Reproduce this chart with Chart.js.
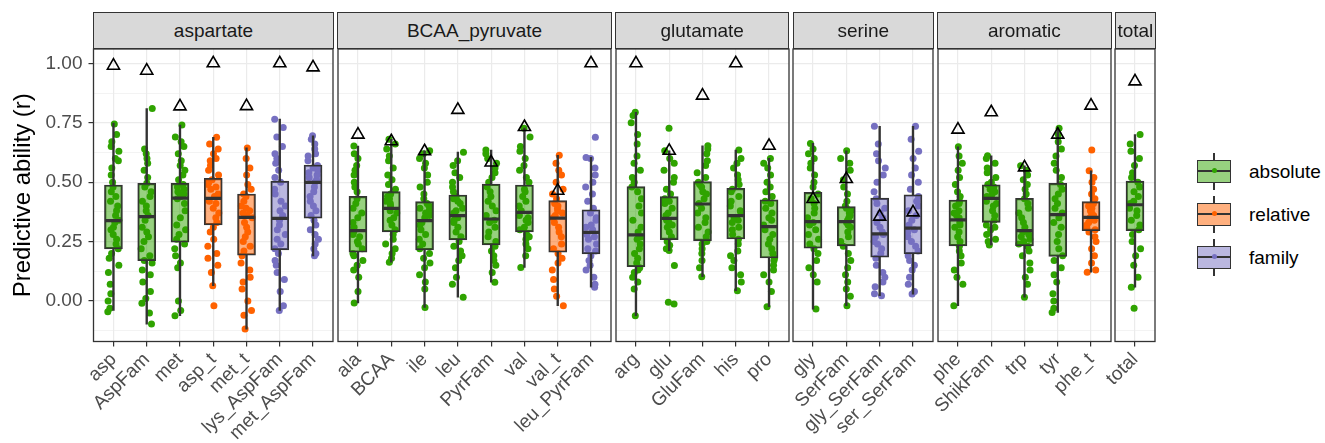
<!DOCTYPE html>
<html>
<head>
<meta charset="utf-8">
<script src="https://cdn.jsdelivr.net/npm/chart.js@4.4.1/dist/chart.umd.min.js"></script>
<style>
  html, body { margin: 0; padding: 0; background: #fff; }
  body { width: 1325px; height: 443px; overflow: hidden; position: relative;
         font-family: "Liberation Sans", Arial, Helvetica, sans-serif; }
  canvas { position: absolute; }
  .strip { position: absolute; top: 12px; height: 37px; background: #d9d9d9; border: 1.3px solid #333;
           box-sizing: border-box; display: flex; align-items: center; justify-content: center;
           font-size: 19px; color: #1a1a1a; white-space: nowrap; overflow: hidden; z-index: 2; }
  .lkey { position: absolute; left: 1197px; width: 34px; height: 23px; box-sizing: border-box;
          border: 1.5px solid #333; }
  .lmed { position: absolute; left: 0; right: 0; top: 9px; height: 2.2px; background: #333; }
  .ldot { position: absolute; left: 13.5px; top: 7.5px; width: 5px; height: 5px; border-radius: 50%; }
  .lwh { position: absolute; left: 1213.3px; width: 1.5px; height: 7px; background: #333; }
  .llab { position: absolute; left: 1249px; font-size: 19px; color: #000; line-height: 23px; }
</style>
</head>
<body>
<script>
// ---------------- data ----------------
const groups = ['aspartate', 'BCAA_pyruvate', 'glutamate', 'serine', 'aromatic', 'total'];
const types = ['absolute', 'relative', 'family'];

const categories = ['asp','AspFam','met','asp_t','met_t','lys_AspFam','met_AspFam',
  'ala','BCAA','ile','leu','PyrFam','val','val_t','leu_PyrFam',
  'arg','glu','GluFam','his','pro',
  'gly','SerFam','gly_SerFam','ser_SerFam',
  'phe','ShikFam','trp','tyr','phe_t',
  'total'];

const categoryGroup = ['aspartate','aspartate','aspartate','aspartate','aspartate','aspartate','aspartate',
  'BCAA_pyruvate','BCAA_pyruvate','BCAA_pyruvate','BCAA_pyruvate','BCAA_pyruvate','BCAA_pyruvate','BCAA_pyruvate','BCAA_pyruvate',
  'glutamate','glutamate','glutamate','glutamate','glutamate',
  'serine','serine','serine','serine',
  'aromatic','aromatic','aromatic','aromatic','aromatic',
  'total'];

const categoryType = ['absolute','absolute','absolute','relative','relative','family','family',
  'absolute','absolute','absolute','absolute','absolute','absolute','relative','family',
  'absolute','absolute','absolute','absolute','absolute',
  'absolute','absolute','family','family',
  'absolute','absolute','absolute','absolute','relative',
  'absolute'];

const whiskerLow = [-0.040,-0.097,-0.062,0.064,-0.118,-0.040,0.190,
  -0.008,0.163,-0.027,0.016,0.079,0.141,-0.020,0.058,
  -0.062,0.212,0.102,0.043,-0.024,
  -0.034,-0.020,0.022,0.029,
  -0.020,0.236,0.016,-0.048,0.121,
  0.058];
const boxQ1 = [0.219,0.170,0.247,0.320,0.193,0.215,0.348,
  0.205,0.291,0.215,0.257,0.236,0.291,0.205,0.198,
  0.144,0.258,0.254,0.261,0.181,
  0.222,0.232,0.184,0.198,
  0.232,0.331,0.232,0.188,0.296,
  0.296];
const boxMedian = [0.338,0.355,0.433,0.432,0.352,0.348,0.499,
  0.296,0.390,0.338,0.359,0.345,0.373,0.349,0.289,
  0.278,0.348,0.408,0.359,0.313,
  0.334,0.334,0.282,0.307,
  0.341,0.432,0.296,0.363,0.352,
  0.405];
const boxQ3 = [0.488,0.495,0.495,0.516,0.450,0.504,0.572,
  0.440,0.460,0.418,0.446,0.492,0.488,0.422,0.384,
  0.481,0.439,0.502,0.474,0.426,
  0.457,0.397,0.433,0.447,
  0.425,0.489,0.432,0.495,0.418,
  0.504];
const whiskerHigh = [0.749,0.810,0.740,0.689,0.644,0.765,0.695,
  0.652,0.680,0.632,0.626,0.635,0.727,0.613,0.604,
  0.794,0.632,0.653,0.635,0.600,
  0.663,0.632,0.735,0.735,
  0.649,0.611,0.569,0.727,0.548,
  0.700];
const triangleValue = [0.990,0.969,0.819,1.000,0.820,1.000,0.983,
  0.700,0.672,0.630,0.804,0.583,0.732,0.464,1.000,
  1.000,0.632,0.864,1.000,0.653,
  0.429,0.513,0.355,0.373,
  0.721,0.794,0.562,0.700,0.822,
  0.924];

const pointValues = [
  [-0.045,-0.03,0.0,0.03,0.07,0.12,0.15,0.18,0.2,0.22,0.24,0.26,0.28,0.3,0.31,0.33,0.34,0.36,0.38,0.4,0.42,0.44,0.46,0.48,0.5,0.53,0.56,0.59,0.6,0.63,0.65,0.67,0.7,0.745],
  [-0.097,-0.05,-0.01,0.01,0.04,0.08,0.11,0.13,0.16,0.17,0.19,0.22,0.25,0.27,0.29,0.31,0.34,0.36,0.38,0.4,0.42,0.44,0.46,0.48,0.495,0.52,0.55,0.58,0.6,0.62,0.64,0.81],
  [-0.062,-0.04,0.0,0.14,0.16,0.19,0.22,0.24,0.26,0.28,0.3,0.32,0.35,0.38,0.41,0.43,0.44,0.45,0.46,0.47,0.48,0.49,0.51,0.53,0.55,0.57,0.59,0.62,0.65,0.67,0.69,0.74],
  [-0.02,0.064,0.12,0.15,0.18,0.2,0.23,0.26,0.29,0.31,0.33,0.35,0.37,0.39,0.41,0.42,0.44,0.45,0.47,0.48,0.49,0.5,0.51,0.53,0.55,0.57,0.59,0.6,0.62,0.64,0.66,0.689],
  [-0.118,-0.06,-0.04,0.0,0.05,0.08,0.1,0.13,0.16,0.19,0.21,0.23,0.25,0.27,0.29,0.31,0.33,0.35,0.36,0.37,0.38,0.39,0.4,0.42,0.44,0.45,0.47,0.49,0.53,0.56,0.6,0.644],
  [-0.04,-0.02,0.04,0.09,0.12,0.15,0.17,0.2,0.22,0.24,0.26,0.28,0.3,0.32,0.34,0.36,0.38,0.4,0.42,0.45,0.47,0.5,0.52,0.55,0.58,0.6,0.62,0.65,0.69,0.73,0.765],
  [0.19,0.2,0.22,0.24,0.26,0.28,0.3,0.32,0.34,0.36,0.38,0.4,0.42,0.44,0.46,0.48,0.5,0.51,0.52,0.53,0.54,0.55,0.56,0.57,0.59,0.61,0.62,0.64,0.66,0.68,0.695],
  [-0.008,0.04,0.1,0.13,0.15,0.17,0.19,0.2,0.22,0.24,0.25,0.27,0.28,0.29,0.31,0.33,0.35,0.37,0.39,0.41,0.43,0.46,0.48,0.5,0.53,0.55,0.57,0.6,0.62,0.652],
  [0.163,0.18,0.2,0.22,0.24,0.26,0.28,0.3,0.32,0.34,0.35,0.37,0.38,0.4,0.41,0.42,0.43,0.44,0.45,0.47,0.49,0.51,0.53,0.56,0.59,0.61,0.64,0.66,0.68],
  [-0.027,0.05,0.08,0.11,0.14,0.16,0.18,0.2,0.22,0.24,0.26,0.28,0.3,0.32,0.33,0.35,0.36,0.37,0.38,0.39,0.4,0.41,0.43,0.45,0.48,0.5,0.53,0.56,0.58,0.6,0.62,0.632],
  [0.016,0.07,0.1,0.14,0.17,0.19,0.21,0.23,0.25,0.27,0.29,0.31,0.33,0.34,0.35,0.37,0.38,0.39,0.41,0.42,0.43,0.44,0.46,0.48,0.5,0.52,0.54,0.57,0.59,0.626],
  [0.079,0.12,0.15,0.17,0.19,0.21,0.23,0.25,0.27,0.29,0.31,0.33,0.34,0.36,0.38,0.4,0.42,0.44,0.46,0.48,0.5,0.52,0.54,0.56,0.58,0.6,0.62,0.635],
  [0.141,0.19,0.22,0.24,0.26,0.27,0.28,0.3,0.31,0.33,0.34,0.35,0.36,0.38,0.4,0.42,0.44,0.46,0.47,0.5,0.52,0.55,0.57,0.6,0.63,0.65,0.69,0.727],
  [-0.02,0.02,0.05,0.09,0.13,0.16,0.18,0.2,0.22,0.24,0.27,0.29,0.31,0.33,0.35,0.36,0.37,0.38,0.39,0.4,0.41,0.43,0.45,0.47,0.5,0.53,0.55,0.58,0.613],
  [0.058,0.07,0.1,0.13,0.15,0.17,0.19,0.21,0.22,0.24,0.26,0.27,0.28,0.3,0.31,0.32,0.34,0.35,0.37,0.39,0.42,0.45,0.48,0.5,0.53,0.56,0.6,0.604,0.689],
  [-0.062,0.05,0.08,0.1,0.12,0.13,0.14,0.16,0.18,0.2,0.22,0.24,0.26,0.27,0.29,0.31,0.34,0.37,0.4,0.43,0.46,0.48,0.5,0.52,0.55,0.58,0.61,0.66,0.7,0.75,0.78,0.794],
  [-0.013,-0.005,0.149,0.212,0.22,0.235,0.25,0.27,0.29,0.31,0.32,0.33,0.34,0.36,0.37,0.39,0.41,0.42,0.43,0.45,0.47,0.5,0.52,0.55,0.58,0.6,0.632,0.727],
  [0.102,0.14,0.17,0.2,0.22,0.24,0.25,0.27,0.29,0.31,0.33,0.35,0.37,0.39,0.41,0.43,0.45,0.46,0.48,0.49,0.5,0.52,0.54,0.57,0.59,0.62,0.64,0.653],
  [0.043,0.08,0.11,0.14,0.17,0.19,0.21,0.24,0.26,0.28,0.3,0.31,0.33,0.34,0.35,0.37,0.38,0.4,0.42,0.44,0.46,0.47,0.49,0.51,0.53,0.56,0.58,0.6,0.635],
  [-0.024,0.04,0.08,0.11,0.13,0.15,0.17,0.18,0.2,0.22,0.24,0.26,0.28,0.3,0.32,0.34,0.35,0.37,0.39,0.41,0.42,0.44,0.46,0.48,0.5,0.53,0.56,0.58,0.6],
  [-0.034,0.08,0.11,0.14,0.17,0.2,0.22,0.24,0.26,0.28,0.3,0.32,0.33,0.35,0.37,0.39,0.41,0.43,0.45,0.48,0.5,0.53,0.56,0.58,0.6,0.62,0.64,0.663],
  [-0.02,0.02,0.05,0.08,0.11,0.14,0.17,0.2,0.23,0.25,0.27,0.29,0.31,0.32,0.33,0.34,0.35,0.36,0.37,0.38,0.39,0.4,0.42,0.45,0.48,0.51,0.55,0.58,0.6,0.632],
  [0.022,0.03,0.06,0.08,0.1,0.12,0.15,0.18,0.2,0.22,0.24,0.25,0.27,0.28,0.29,0.31,0.33,0.35,0.37,0.39,0.41,0.43,0.46,0.5,0.53,0.56,0.59,0.62,0.66,0.735],
  [0.029,0.04,0.07,0.1,0.13,0.15,0.17,0.19,0.21,0.23,0.25,0.27,0.29,0.3,0.32,0.34,0.36,0.38,0.4,0.42,0.44,0.47,0.5,0.53,0.56,0.6,0.63,0.68,0.735],
  [-0.02,0.07,0.1,0.13,0.16,0.19,0.21,0.23,0.25,0.27,0.29,0.31,0.32,0.33,0.35,0.36,0.37,0.38,0.4,0.41,0.42,0.44,0.46,0.49,0.52,0.55,0.58,0.61,0.649],
  [0.236,0.25,0.26,0.28,0.3,0.31,0.32,0.34,0.36,0.38,0.4,0.41,0.42,0.44,0.45,0.46,0.47,0.48,0.49,0.5,0.52,0.54,0.56,0.58,0.6,0.611],
  [0.016,0.07,0.1,0.13,0.16,0.19,0.21,0.23,0.24,0.25,0.26,0.27,0.28,0.29,0.31,0.33,0.35,0.37,0.39,0.41,0.43,0.45,0.47,0.49,0.51,0.53,0.55,0.569],
  [-0.048,-0.03,0.0,0.03,0.08,0.11,0.14,0.17,0.19,0.22,0.25,0.28,0.31,0.33,0.35,0.37,0.39,0.41,0.43,0.45,0.47,0.49,0.52,0.55,0.58,0.61,0.64,0.67,0.7,0.727],
  [0.121,0.13,0.16,0.19,0.22,0.25,0.27,0.29,0.3,0.31,0.32,0.33,0.34,0.35,0.36,0.37,0.38,0.39,0.4,0.41,0.43,0.45,0.47,0.5,0.52,0.548,0.635],
  [-0.031,0.058,0.1,0.15,0.19,0.22,0.25,0.28,0.3,0.32,0.34,0.36,0.38,0.39,0.41,0.42,0.44,0.46,0.48,0.5,0.52,0.54,0.57,0.6,0.63,0.66,0.7]
];

const yMajorTicks = [0, 0.25, 0.5, 0.75, 1.0];
const yMinorTicks = [-0.125, 0.125, 0.375, 0.625, 0.875];
const yTitle = 'Predictive ability (r)';

// ---------------- styling / layout ----------------
const typeColor = { absolute: '#2fa300', relative: '#ff6200', family: '#7670c1' };
function rgba(hex, a) {
  const n = parseInt(hex.slice(1), 16);
  return `rgba(${(n >> 16) & 255},${(n >> 8) & 255},${n & 255},${a})`;
}
const FONT = '"Liberation Sans", Arial, Helvetica, sans-serif';
const UNIT = 33.33, FIRST_LEFT = 93.5, GAP = 4.4;
const CANVAS_TOP = 25, PLOT_TOP = 49, PLOT_BOTTOM = 341.5, PAGE_H = 443;
const Y_MIN = -0.1704, Y_MAX = 1.0602;
const PAD_L = 45, PAD_R = 14;
const isMajor = v => yMajorTicks.some(t => Math.abs(t - v) < 1e-9);
const yAll = yMajorTicks.concat(yMinorTicks).sort((a, b) => a - b);

function jitter(i, j) {
  const s = Math.sin(i * 12.9898 + j * 78.233) * 43758.5453;
  return (s - Math.floor(s) - 0.5) * 0.34;
}

const panelBorder = {
  id: 'panelBorder',
  afterDraw(chart) {
    const { ctx, chartArea: a } = chart;
    ctx.save();
    ctx.strokeStyle = '#333';
    ctx.lineWidth = 1.3;
    ctx.strokeRect(a.left, a.top, a.right - a.left, a.bottom - a.top);
    ctx.restore();
  }
};

let panelLeft = FIRST_LEFT;
groups.forEach((g, gi) => {
  const idx = categories.map((c, i) => i).filter(i => categoryGroup[i] === g);
  const n = idx.length;
  const labels = idx.map(i => categories[i]);
  const panelWidth = (n - 1 + 1.2) * UNIT;
  const first = gi === 0;

  const strip = document.createElement('div');
  strip.className = 'strip';
  strip.style.left = (panelLeft - 0.6) + 'px';
  strip.style.width = (panelWidth + 1.2) + 'px';
  strip.textContent = g;
  document.body.appendChild(strip);

  const cv = document.createElement('canvas');
  const cLeft = first ? 0 : panelLeft - PAD_L;
  const cWidth = (first ? panelLeft : PAD_L) + panelWidth + PAD_R;
  const cHeight = PAGE_H - CANVAS_TOP;
  cv.width = Math.round(cWidth); cv.height = cHeight;
  cv.style.left = cLeft + 'px'; cv.style.top = CANVAS_TOP + 'px';
  cv.style.width = Math.round(cWidth) + 'px'; cv.style.height = cHeight + 'px';
  document.body.appendChild(cv);

  const pts = [], boxes = [], wLo = [], wHi = [], meds = [], tris = [];
  idx.forEach((ci, k) => {
    const col = typeColor[categoryType[ci]];
    pointValues[ci].forEach((v, j) => pts.push({ x: k + jitter(ci, j), y: v, c: col }));
    boxes.push({ x: k, y: [boxQ1[ci], boxQ3[ci]], c: col });
    wLo.push({ x: k, y: [whiskerLow[ci], boxQ1[ci]] });
    wHi.push({ x: k, y: [boxQ3[ci], whiskerHigh[ci]] });
    meds.push({ x: k, y: boxMedian[ci] });
    tris.push({ x: k, y: triangleValue[ci] });
  });

  const padTop = PLOT_TOP - CANVAS_TOP;
  new Chart(cv, {
    type: 'scatter',
    data: {
      datasets: [
        { type: 'scatter', data: tris, order: 0, pointStyle: 'triangle', pointRadius: 7,
          pointBorderWidth: 1.6, pointBorderColor: '#000', pointBackgroundColor: 'rgba(0,0,0,0)' },
        { type: 'scatter', data: meds, order: 1, pointStyle: 'line', pointRadius: 8.3,
          pointBorderWidth: 3.2, pointBorderColor: '#333', pointBackgroundColor: '#333' },
        { type: 'bar', data: boxes, order: 2, grouped: false, barThickness: 18,
          backgroundColor: c => rgba(c.raw ? c.raw.c : '#2fa300', 0.5),
          borderColor: '#333', borderWidth: 1.5, borderSkipped: false },
        { type: 'bar', data: wLo, order: 3, grouped: false, barThickness: 1.7,
          backgroundColor: '#333', borderWidth: 0 },
        { type: 'bar', data: wHi, order: 3, grouped: false, barThickness: 1.7,
          backgroundColor: '#333', borderWidth: 0 },
        { type: 'scatter', data: pts, order: 5, pointRadius: 3.5, pointBorderWidth: 0,
          pointBackgroundColor: c => (c.raw ? c.raw.c : '#2fa300') }
      ]
    },
    options: {
      responsive: false,
      animation: false,
      events: [],
      devicePixelRatio: 1,
      layout: { padding: { left: first ? 0 : PAD_L, right: PAD_R, top: padTop, bottom: 0 } },
      plugins: { legend: { display: false }, tooltip: { enabled: false }, title: { display: false } },
      scales: {
        x: {
          type: 'linear', min: -0.6, max: n - 0.4, offset: false,
          afterBuildTicks: s => { s.ticks = labels.map((_, k) => ({ value: k })); },
          afterFit: s => { s.height = PAGE_H - PLOT_BOTTOM; },
          ticks: { autoSkip: false, minRotation: 45, maxRotation: 45, padding: 2,
                   font: { size: 19, family: FONT }, color: '#4d4d4d',
                   callback: v => labels[Math.round(v)] },
          grid: { color: '#ebebeb', lineWidth: 1.2, offset: false, drawTicks: true,
                  tickLength: 5, tickColor: '#333', tickWidth: 1.2 },
          border: { display: false }
        },
        y: {
          type: 'linear', min: Y_MIN, max: Y_MAX,
          afterBuildTicks: s => { s.ticks = yAll.map(v => ({ value: v })); },
          afterFit: s => { s.width = first ? panelLeft : 0; },
          ticks: { display: first, autoSkip: false, padding: 6,
                   font: { size: 19, family: FONT }, color: '#4d4d4d',
                   callback: v => isMajor(v) ? v.toFixed(2) : '' },
          grid: { color: '#ebebeb', lineWidth: c => isMajor(c.tick.value) ? 1.2 : 0.6,
                  drawTicks: first, tickLength: 5, tickWidth: 1.2,
                  tickColor: c => isMajor(c.tick.value) ? '#333' : 'rgba(0,0,0,0)' },
          border: { display: false },
          title: { display: first, text: yTitle, color: '#000',
                   font: { size: 24, family: FONT }, padding: { top: 9, bottom: 0 } }
        }
      }
    },
    plugins: [panelBorder]
  });

  panelLeft += panelWidth + GAP;
});

// legend
const centers = [171, 214, 257];
types.forEach((t, i) => {
  const cy = centers[i];
  const key = document.createElement('div');
  key.className = 'lkey';
  key.style.top = (cy - 11.5) + 'px';
  key.style.background = rgba(typeColor[t], 0.5);
  key.innerHTML = '<div class="lmed"></div><div class="ldot" style="background:' + typeColor[t] + '"></div>';
  document.body.appendChild(key);
  const w1 = document.createElement('div'); w1.className = 'lwh'; w1.style.top = (cy - 18.5) + 'px';
  const w2 = document.createElement('div'); w2.className = 'lwh'; w2.style.top = (cy + 11.5) + 'px';
  document.body.appendChild(w1); document.body.appendChild(w2);
  const lab = document.createElement('div');
  lab.className = 'llab'; lab.style.top = (cy - 11.5) + 'px'; lab.textContent = t;
  document.body.appendChild(lab);
});
</script>
</body>
</html>
